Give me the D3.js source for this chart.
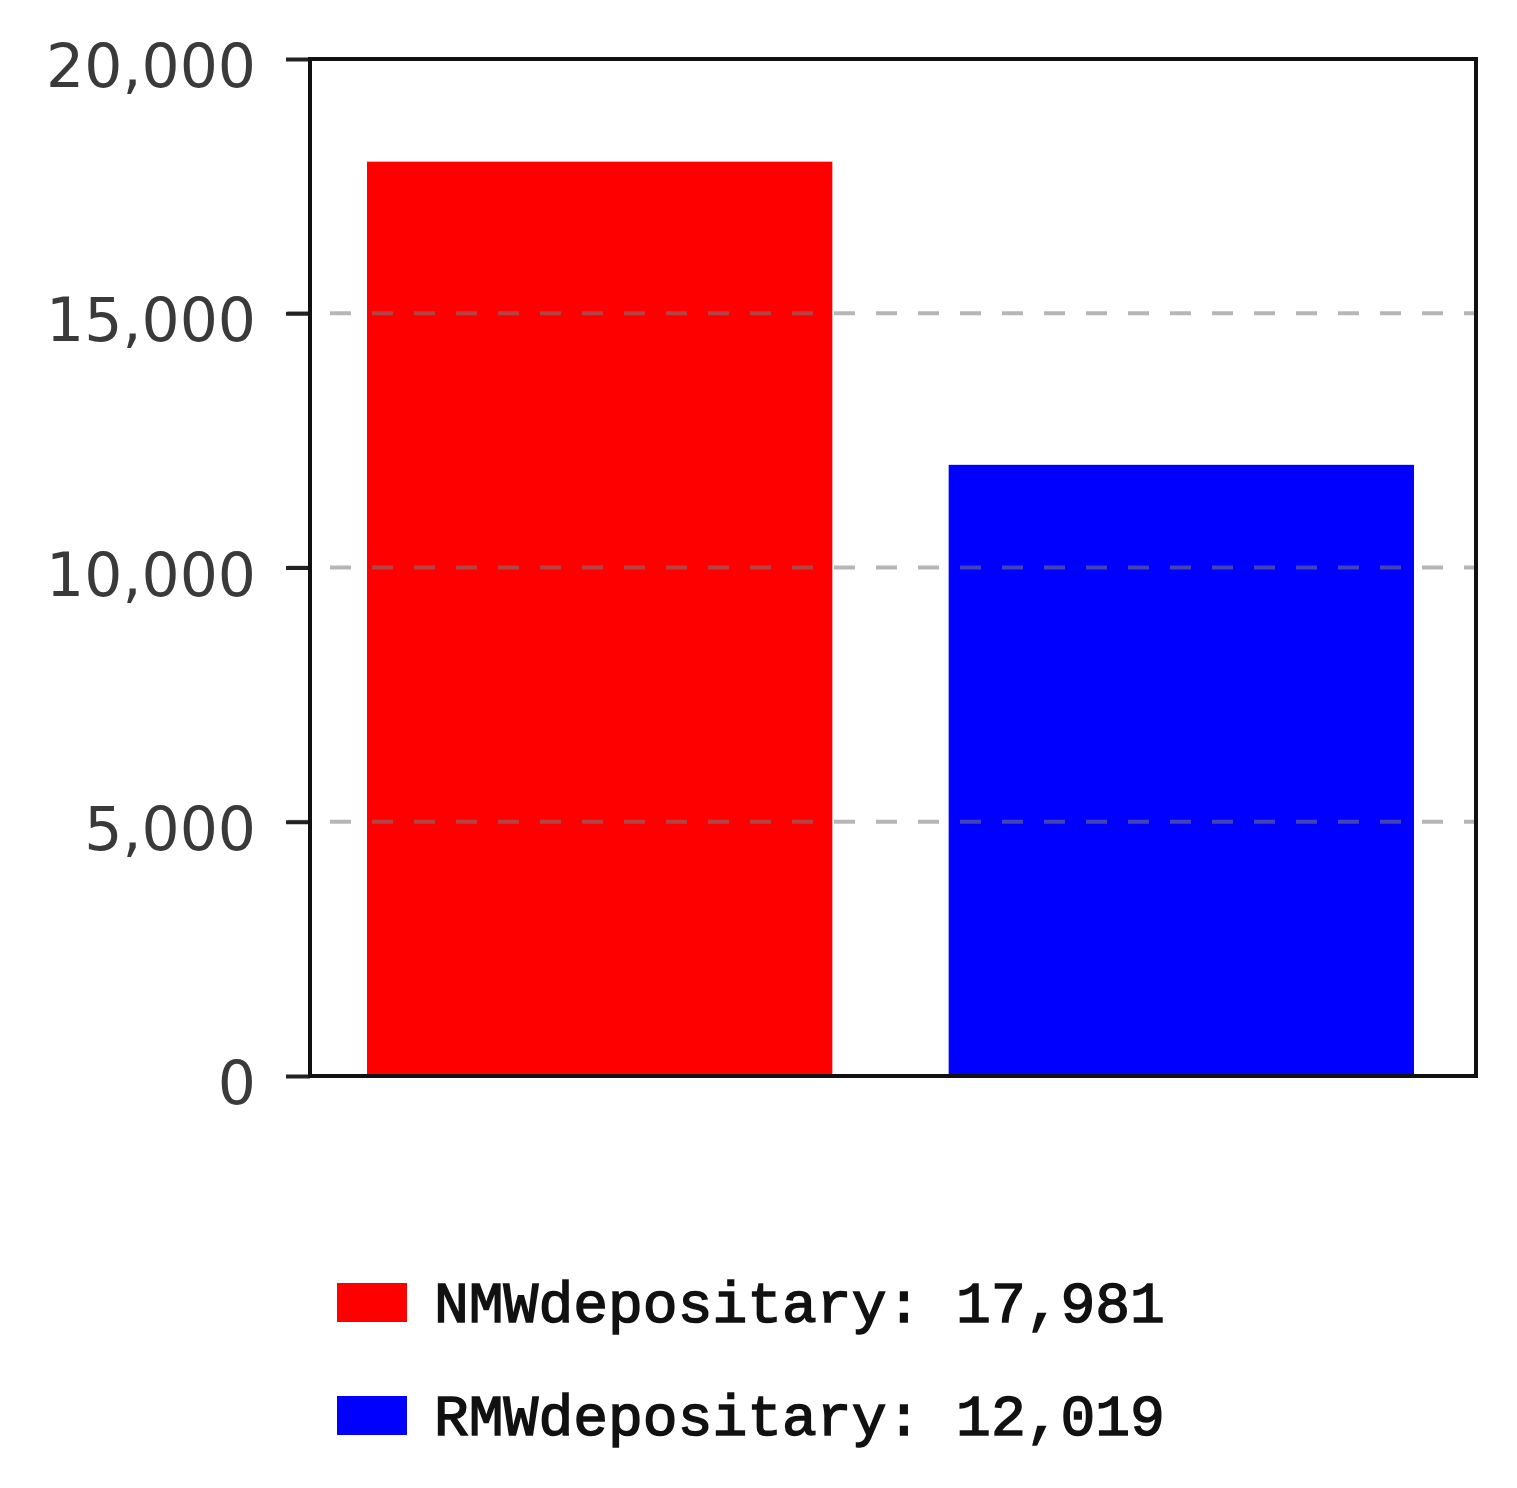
<!DOCTYPE html>
<html>
<head>
<meta charset="utf-8">
<script src="https://cdn.jsdelivr.net/npm/d3@7"></script>
<style>
    body { margin: 0; background: #fff; }
    svg { display: block; }
</style>
</head>
<body>
<div id="chart"></div>
<script>
// данные графика
var categories = ['NMWdepositary', 'RMWdepositary']
var values = [17981, 12019]
var colors = ['#ff0000', '#0000ff']
var tickValues = [0, 5000, 10000, 15000, 20000]

var w = 1517,
    h = 1488,
    margin = { top: 59, right: 41, bottom: 412, left: 310 },
    innerW = w - margin.left - margin.right,
    innerH = h - margin.top - margin.bottom

var fmt = d3.format(',')

var svg = d3
    .select('#chart')
    .append('svg')
    .attr('width', w)
    .attr('height', h)

var g = svg
    .append('g')
    .attr('transform', 'translate(' + margin.left + ',' + margin.top + ')')

var x = d3
    .scaleBand()
    .domain(categories)
    .range([57, innerW - 62])
    .paddingInner(0.2)
    .paddingOuter(0)

var y = d3.scaleLinear().domain([0, 20000]).range([innerH, 0])

// столбцы
g.selectAll('rect.bar')
    .data(values)
    .enter()
    .append('rect')
    .attr('class', 'bar')
    .attr('x', function (d, i) { return x(categories[i]) })
    .attr('y', function (d) { return y(d) })
    .attr('width', x.bandwidth())
    .attr('height', function (d) { return innerH - y(d) })
    .attr('fill', function (d, i) { return colors[i] })

// пунктирная сетка поверх столбцов
g.selectAll('line.grid')
    .data(tickValues.filter(function (d) { return d > 0 && d < 20000 }))
    .enter()
    .append('line')
    .attr('class', 'grid')
    .attr('x1', -22)
    .attr('x2', innerW)
    .attr('y1', function (d) { return y(d) })
    .attr('y2', function (d) { return y(d) })
    .style('stroke', '#7a7a7a')
    .style('stroke-opacity', 0.55)
    .style('stroke-width', 4)
    .style('stroke-dasharray', '21,21')

// ось Y
var yAxis = d3
    .axisLeft(y)
    .tickValues(tickValues)
    .tickSize(24)
    .tickPadding(30)
    .tickFormat(fmt)

var ax = g.append('g').call(yAxis)
ax.select('.domain').remove()
ax.selectAll('.tick line').style('stroke', '#222').style('stroke-width', 4)
ax.selectAll('.tick text')
    .style('font-family', '"DejaVu Sans", sans-serif')
    .style('font-size', '60px')
    .style('fill', '#3a3a3a')
    .attr('dy', '0.46em')

// рамка
g.append('rect')
    .attr('x', 0)
    .attr('y', 0)
    .attr('width', innerW)
    .attr('height', innerH)
    .attr('fill', 'none')
    .style('stroke', '#111')
    .style('stroke-width', 4)

// легенда
var legend = svg
    .append('g')
    .attr('transform', 'translate(337,1283)')

var items = legend
    .selectAll('g.item')
    .data(categories)
    .enter()
    .append('g')
    .attr('class', 'item')
    .attr('transform', function (d, i) { return 'translate(0,' + i * 113 + ')' })

items.append('rect')
    .attr('width', 70)
    .attr('height', 39)
    .attr('fill', function (d, i) { return colors[i] })

items.append('text')
    .attr('x', 97)
    .attr('y', 39)
    .style('font-family', '"Liberation Mono", monospace')
    .style('font-size', '58px')
    .style('fill', '#111')
    .style('stroke', '#111')
    .style('stroke-width', 1.5)
    .text(function (d, i) { return d + ': ' + fmt(values[i]) })
</script>
</body>
</html>
